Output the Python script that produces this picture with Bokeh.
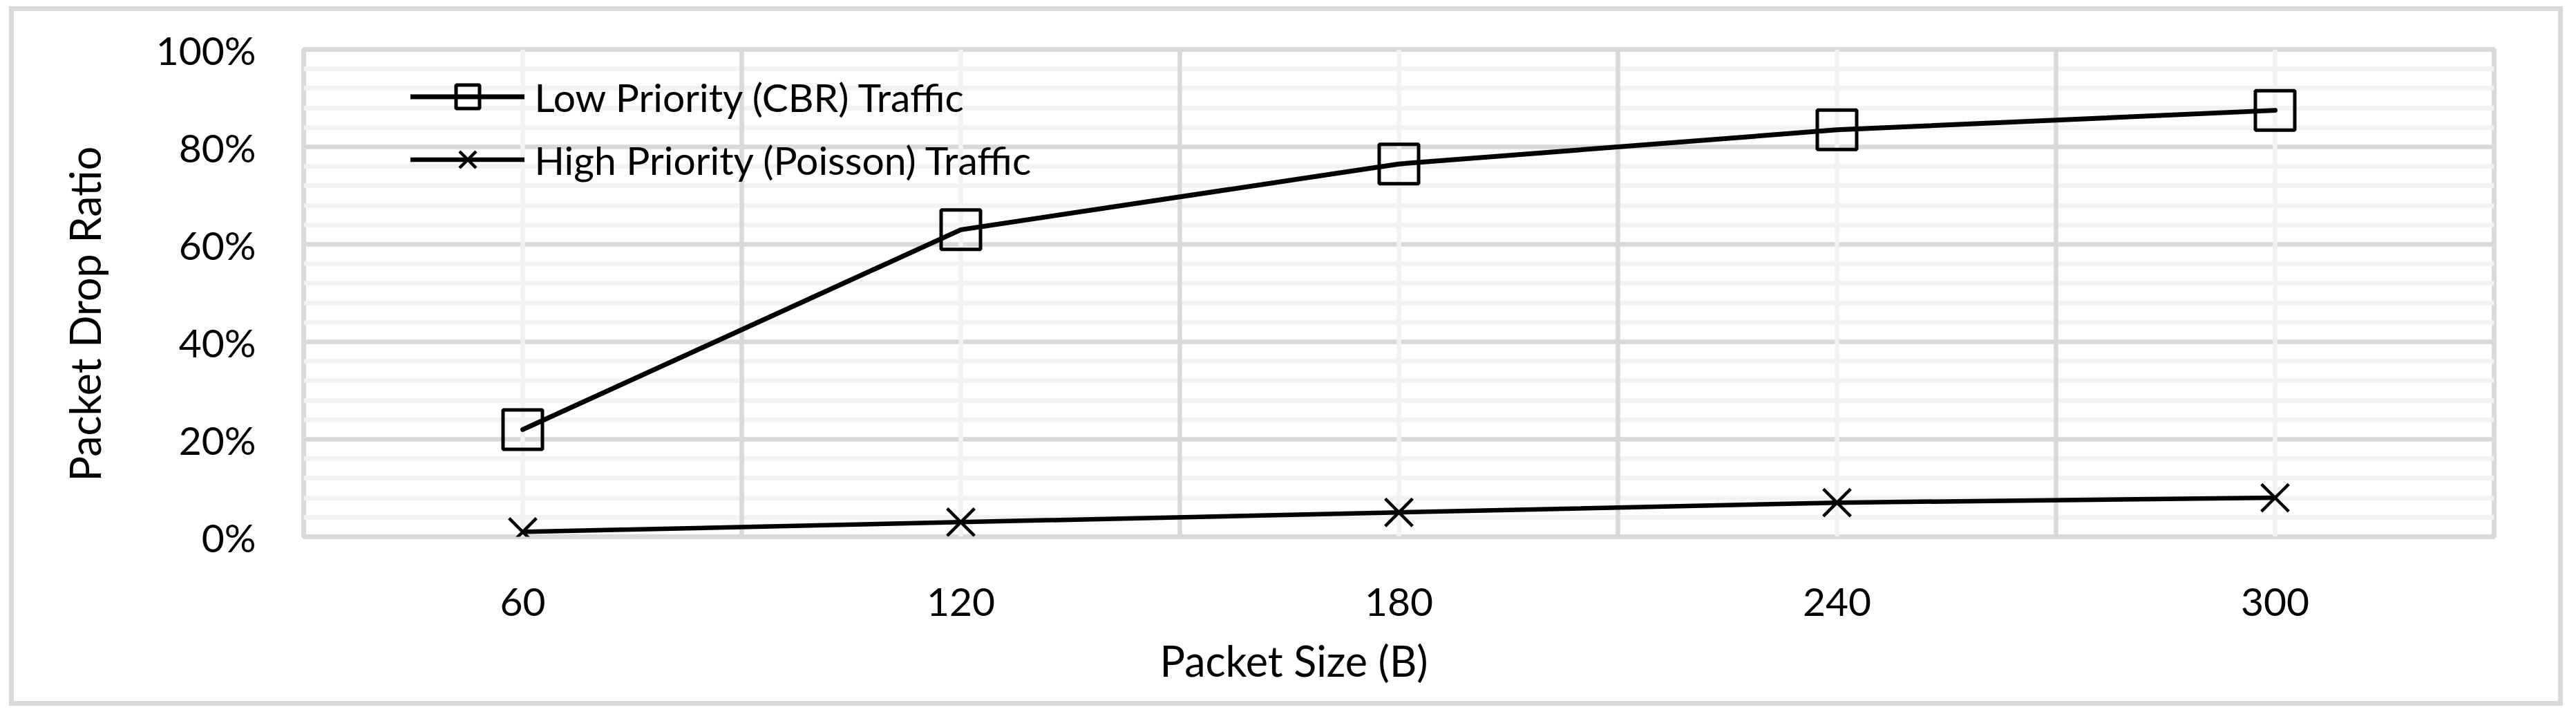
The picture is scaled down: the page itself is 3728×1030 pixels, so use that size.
import math
from bokeh.plotting import figure
from bokeh.models import (FactorRange, Range1d, SingleIntervalTicker, FixedTicker, Grid,
                          NumeralTickFormatter, Legend, LegendItem, Title, ColumnDataSource)
from bokeh.embed import file_html
from bokeh.resources import INLINE

# ---- data ----
packet_sizes = ["60", "120", "180", "240", "300"]
low_priority_cbr = [0.22, 0.63, 0.765, 0.835, 0.875]
high_priority_poisson = [0.01, 0.03, 0.05, 0.07, 0.08]
series_labels = ["Low Priority (CBR) Traffic", "High Priority (Poisson) Traffic"]
x_title = "Packet Size (B)"
y_title = "Packet Drop Ratio"

FONT = "Lato"
FS = "57px"
TFS = "61px"
GRID_MAJOR = "#D9D9D9"
GRID_MINOR = "#F2F2F2"

src = ColumnDataSource(dict(size=packet_sizes, low=low_priority_cbr, high=high_priority_poisson))

p = figure(x_range=FactorRange(factors=packet_sizes, range_padding=0),
           y_range=Range1d(0, 1),
           frame_width=3170, frame_height=705,
           min_border_left=410, min_border_right=93,
           min_border_top=55, min_border_bottom=217,
           output_backend="svg", toolbar_location=None,
           background_fill_color="white", border_fill_color="white",
           margin=(9, 0, 0, 13),
           styles={"border": "7px solid #D9D9D9"})

p.outline_line_color = GRID_MAJOR
p.outline_line_width = 7
p.outline_line_alpha = 1.0

# grids
p.xgrid.visible = False
p.ygrid.visible = False
yticker = SingleIntervalTicker(interval=0.2, num_minor_ticks=5)
p.yaxis.ticker = yticker
gy = Grid(dimension=1, ticker=yticker, grid_line_color=GRID_MAJOR, grid_line_width=6.5,
          minor_grid_line_color=GRID_MINOR, minor_grid_line_width=6.5)
gx_center = Grid(dimension=0, ticker=p.xaxis[0].ticker, grid_line_color=GRID_MINOR, grid_line_width=6.5)
gx_bound = Grid(dimension=0, ticker=FixedTicker(ticks=[1, 2, 3, 4]), grid_line_color=GRID_MAJOR,
                grid_line_width=6.5)
p.add_layout(gy)
p.add_layout(gx_center)
p.add_layout(gx_bound)

# axes
for ax in (p.xaxis[0], p.yaxis[0]):
    ax.axis_line_color = None
    ax.major_tick_line_color = None
    ax.minor_tick_line_color = None
    ax.major_tick_out = 0
    ax.major_tick_in = 0
    ax.minor_tick_out = 0
    ax.minor_tick_in = 0
    ax.major_label_text_font = FONT
    ax.major_label_text_font_size = FS
    ax.major_label_text_color = "black"
p.yaxis.formatter = NumeralTickFormatter(format="0%")
p.yaxis.major_label_standoff = 69
p.xaxis.major_label_standoff = 74

# series
l1 = p.line("size", "low", source=src, line_color="black", line_width=7,
            line_cap="round", line_join="round")
s1 = p.scatter("size", "low", source=src, marker="square", size=57, fill_color=None,
               line_color="black", line_width=5)
l2 = p.line("size", "high", source=src, line_color="black", line_width=6.5,
            line_cap="round", line_join="round")
s2 = p.scatter("size", "high", source=src, marker="x", size=56,
               line_color="black", line_width=4.5)

legend = Legend(items=[LegendItem(label=series_labels[0], renderers=[l1, s1]),
                       LegendItem(label=series_labels[1], renderers=[l2, s2])],
                location=(154.5, 503), orientation="vertical",
                glyph_width=165, glyph_height=85, spacing=6, padding=0, margin=0,
                label_standoff=15, label_text_font=FONT, label_text_font_size=FS,
                label_text_color="black", label_text_baseline="middle",
                border_line_color=None, background_fill_alpha=0)
p.add_layout(legend)

p.add_layout(Title(text=y_title, align="left", offset=80,
                   text_font=FONT, text_font_size=TFS, text_font_style="normal",
                   text_color="black", standoff=127), "left")
p.add_layout(Title(text=x_title, align="left", offset=1239,
                   text_font=FONT, text_font_size=TFS, text_font_style="normal",
                   text_color="black", standoff=46), "below")

open("out.html", "w").write(file_html(p, INLINE))
